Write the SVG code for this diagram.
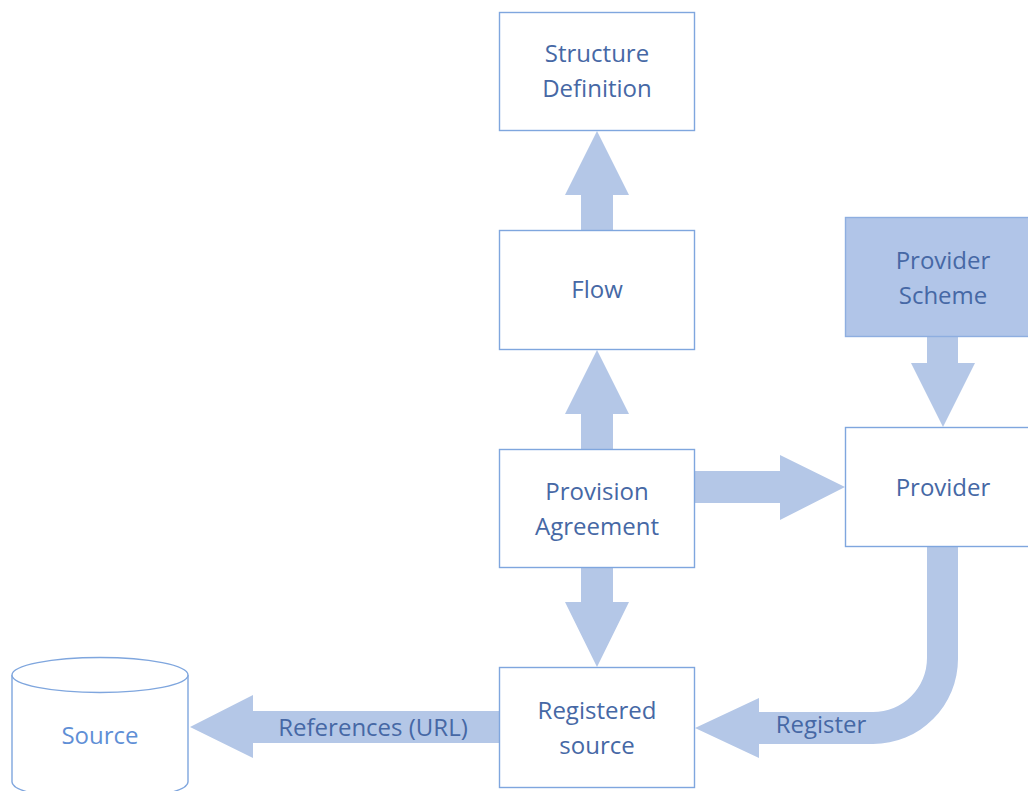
<svg xmlns="http://www.w3.org/2000/svg" width="1028" height="791" viewBox="0 0 1028 791">
  <style>
    .box { fill: #ffffff; stroke: #7fa6de; stroke-width: 1.4; }
    .box.filled { fill: #b1c5e8; stroke: #8eaee0; }
    .arrow { fill: #b4c7e7; }
    .label { font-family: "Open Sans", "Noto Sans", sans-serif; font-size: 24px; fill: #4668a5; text-anchor: middle; }
    .label.light { fill: #5f8fd6; }
  </style>

  <!-- block arrows -->
  <g id="connectors">
    <polygon class="arrow" points="581,230 613,230 613,195 629,195 597,131 565,195 581,195"/>
    <polygon class="arrow" points="581,449 613,449 613,414 629,414 597,350 565,414 581,414"/>
    <polygon class="arrow" points="581,568 613,568 613,602 629,602 597,667 565,602 581,602"/>
    <polygon class="arrow" points="694,471 780,471 780,455 845,487 780,520 780,503 694,503"/>
    <polygon class="arrow" points="927,337 958,337 958,363 975,363 943,427 911,363 927,363"/>
    <polygon class="arrow" points="499,711 253,711 253,695 190,727 253,758 253,743 499,743"/>
    <path class="arrow" d="M927,547 L958,547 L958,659 A85,85 0 0 1 873,744 L759,744 L759,758 L695,728 L759,698 L759,712 L873,712 A54,54 0 0 0 927,658 Z"/>
    <text class="label" x="373" y="736">References (URL)</text>
    <text class="label" x="821" y="733">Register</text>
  </g>

  <g id="structure-definition">
    <rect class="box" x="499.5" y="12.5" width="195" height="118"/>
    <text class="label" x="597" y="62">Structure</text>
    <text class="label" x="597" y="97">Definition</text>
  </g>

  <g id="flow">
    <rect class="box" x="499.5" y="230.5" width="195" height="119"/>
    <text class="label" x="597" y="298">Flow</text>
  </g>

  <g id="provision-agreement">
    <rect class="box" x="499.5" y="449.5" width="195" height="118"/>
    <text class="label" x="597" y="500">Provision</text>
    <text class="label" x="597" y="535">Agreement</text>
  </g>

  <g id="registered-source">
    <rect class="box" x="499.5" y="667.5" width="195" height="120"/>
    <text class="label" x="597" y="719">Registered</text>
    <text class="label" x="597" y="754">source</text>
  </g>

  <g id="provider-scheme">
    <rect class="box filled" x="845.5" y="217.5" width="200" height="119"/>
    <text class="label" x="943" y="269">Provider</text>
    <text class="label" x="943" y="304">Scheme</text>
  </g>

  <g id="provider">
    <rect class="box" x="845.5" y="427.5" width="200" height="119"/>
    <text class="label" x="943" y="496">Provider</text>
  </g>

  <g id="source">
    <path class="box" d="M12,675 L12,782 A88,17.5 0 0 0 188,782 L188,675"/>
    <ellipse class="box" cx="100" cy="675" rx="88" ry="17.5"/>
    <text class="label light" x="100" y="744">Source</text>
  </g>
</svg>
